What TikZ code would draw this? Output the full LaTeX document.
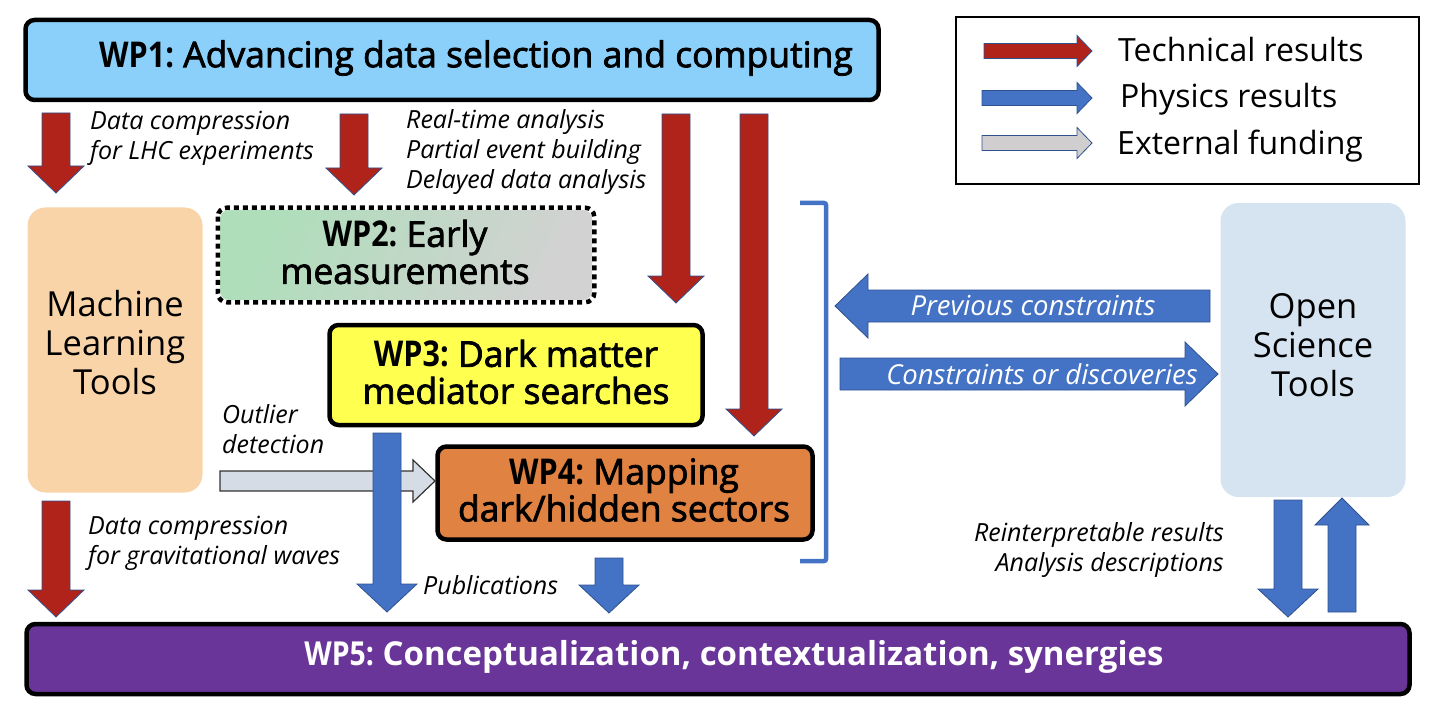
\documentclass[tikz,border=0pt]{standalone}
\usepackage{fontspec}
\setmainfont{Open Sans}
\usetikzlibrary{calc}

\definecolor{wpone}{RGB}{139,208,250}
\definecolor{mlfill}{RGB}{248,212,168}
\definecolor{wptwoA}{RGB}{174,222,186}
\definecolor{wptwoB}{RGB}{210,210,210}
\definecolor{wpthree}{RGB}{255,255,80}
\definecolor{wpfour}{RGB}{224,130,65}
\definecolor{wpfive}{RGB}{106,53,152}
\definecolor{ostfill}{RGB}{214,228,241}
\definecolor{techred}{RGB}{176,35,26}
\definecolor{physblue}{RGB}{68,114,196}
\definecolor{outlineblue}{RGB}{47,82,143}
\definecolor{fundgrey}{RGB}{208,206,206}
\definecolor{outliergrey}{RGB}{214,220,229}

\newcommand\wpfont{\fontsize{35.5}{37}\selectfont}
\newcommand\wpfivefont{\fontsize{33}{37}\selectfont}
\newcommand\toolfont{\fontsize{34.5}{39}\selectfont}
\newcommand\labfont{\fontsize{25}{30}\selectfont\itshape}
\newcommand\arrfont{\fontsize{27.5}{30}\selectfont\itshape}
\newcommand\legfont{\fontsize{32}{36}\selectfont}

% condensed heavy work-package id
\newcommand\wpid[1]{\scalebox{0.86}[1]{\bfseries #1}}
% medium weight: fill and stroke the glyph outlines
\newcommand\medw[1]{\special{pdf:literal direct 2 Tr 0.75 w}#1\special{pdf:literal direct 0 Tr}}

% block arrow: style, from, to, half shaft width, half head width, head length
\newcommand{\blockarr}[6]{%
  \coordinate (ba-h) at ($(#3)!#6!(#2)$);
  \draw[#1] ($(#2)!#4!90:(#3)$) -- ($(ba-h)!#4!90:(#3)$) -- ($(ba-h)!#5!90:(#3)$)
    -- (#3) -- ($(ba-h)!#5!-90:(#3)$) -- ($(ba-h)!#4!-90:(#3)$)
    -- ($(#2)!#4!-90:(#3)$) -- cycle;
}

\begin{document}
\begin{tikzpicture}[x=1pt,y=-1pt,
  wpbox/.style={draw=black, line width=4.5pt, rounded corners=9pt, inner sep=0pt},
  wptext/.style={align=center, font=\wpfont, inner sep=0pt},
  softbox/.style={rounded corners=18pt, inner sep=0pt},
  tooltext/.style={align=center, font=\toolfont, inner sep=0pt},
  lab/.style={font=\labfont, inner sep=0pt},
  arrlab/.style={font=\arrfont, text=white, inner sep=0pt},
  leglab/.style={font=\legfont, anchor=west, inner sep=0pt},
  techarr/.style={fill=techred, draw=outlineblue, line width=0.8pt},
  physarr/.style={fill=physblue, draw=outlineblue, line width=0.8pt},
  fundarr/.style={fill=fundgrey, draw=outlineblue, line width=0.8pt},
  outarr/.style={fill=outliergrey, draw=black!80, line width=1.2pt},
  bracket/.style={draw=physblue, line width=4.5pt, rounded corners=2pt}
]
\useasboundingbox (0,0) rectangle (1438,722);

% ---------- work packages ----------
\node[wpbox, fill=wpone, minimum width=853, minimum height=80] (wp1) at (452,60) {};
\node[wptext] (wp1text) at (476,58) {\wpid{WP1:} \medw{Advancing data selection and computing}};

\node[wpbox, draw=none, left color=wptwoA, right color=wptwoB, shading angle=65,
  minimum width=372, minimum height=90] (wp2) at (406,255) {};
\draw[line width=4.5pt, dash pattern=on 5pt off 4pt, rounded corners=9pt]
  (wp2.north west) rectangle (wp2.south east);
\node[wptext] (wp2text) at (405,252) {\wpid{WP2:} \medw{Early}\\\medw{measurements}};

\node[wpbox, fill=wpthree, minimum width=373, minimum height=100] (wp3) at (516,375) {};
\node[wptext] (wp3text) at (516,372) {\wpid{WP3:} \medw{Dark matter}\\\medw{mediator searches}};

\node[wpbox, fill=wpfour, minimum width=375, minimum height=93] (wp4) at (625,493) {};
\node[wptext] (wp4text) at (624,490) {\wpid{WP4:} \medw{Mapping}\\\medw{dark/hidden sectors}};

\node[wpbox, fill=wpfive, minimum width=1383, minimum height=70] (wp5) at (718,659) {};
\node[wptext, font=\wpfivefont, text=white] (wp5text) at (734,657)
  {\wpid{WP5:} \textbf{Conceptualization, contextualization, synergies}};

% ---------- tool boxes ----------
\node[softbox, fill=mlfill, minimum width=175, minimum height=285] (ml) at (115,350) {};
\node[tooltext] (mltext) at (115,343) {Machine\\Learning\\Tools};
\node[softbox, fill=ostfill, minimum width=185, minimum height=294] (ost) at (1313,350) {};
\node[tooltext] (osttext) at (1313,345) {Open\\Science\\Tools};

% ---------- legend ----------
\node[draw=black, line width=1.6pt, minimum width=463, minimum height=167, anchor=north west,
  inner sep=0pt] (legend) at (955,16) {};
\coordinate (lg1s) at (984,51);  \coordinate (lg1e) at (1092,51);
\coordinate (lg2s) at (982,98);  \coordinate (lg2e) at (1092,98);
\coordinate (lg3s) at (982,143); \coordinate (lg3e) at (1092,143);
\blockarr{techarr}{lg1s}{lg1e}{7.5pt}{15.5pt}{15pt}
\blockarr{physarr}{lg2s}{lg2e}{7.5pt}{15.5pt}{15pt}
\blockarr{fundarr}{lg3s}{lg3e}{7.5pt}{15.5pt}{15pt}
\node[leglab] (lgt1) at (1118,50) {Technical results};
\node[leglab] (lgt2) at (1120,99) {Physics results};
\node[leglab] (lgt3) at (1117,146) {External funding};

% ---------- technical results (red) ----------
\coordinate (r1s) at (56,113);  \coordinate (r1e) at (56,193);
\coordinate (r2s) at (354,114); \coordinate (r2e) at (354,195);
\coordinate (r3s) at (676,114); \coordinate (r3e) at (676,303);
\coordinate (r4s) at (754,114); \coordinate (r4e) at (754,436);
\coordinate (r5s) at (56,501);  \coordinate (r5e) at (56,617);
\blockarr{techarr}{r1s}{r1e}{14pt}{28pt}{27pt}
\blockarr{techarr}{r2s}{r2e}{14pt}{28pt}{27pt}
\blockarr{techarr}{r3s}{r3e}{14pt}{28pt}{27pt}
\blockarr{techarr}{r4s}{r4e}{14pt}{28pt}{27pt}
\blockarr{techarr}{r5s}{r5e}{14pt}{28pt}{27pt}

% ---------- external funding (grey) ----------
\coordinate (o1s) at (220,481); \coordinate (o1e) at (435,481);
\blockarr{outarr}{o1s}{o1e}{10pt}{21pt}{22pt}

% ---------- physics results (blue) ----------
\coordinate (b1s) at (387,433); \coordinate (b1e) at (387,612);
\coordinate (b2s) at (609,558); \coordinate (b2e) at (609,613);
\coordinate (b3s) at (1210,306); \coordinate (b3e) at (835,306);
\coordinate (b4s) at (840,374); \coordinate (b4e) at (1218,374);
\coordinate (b5s) at (1288,500); \coordinate (b5e) at (1288,617);
\coordinate (b6s) at (1342,612); \coordinate (b6e) at (1342,498);
\blockarr{physarr}{b1s}{b1e}{14pt}{30pt}{28pt}
\blockarr{physarr}{b2s}{b2e}{14pt}{30pt}{28pt}
\blockarr{physarr}{b3s}{b3e}{16pt}{32pt}{33pt}
\blockarr{physarr}{b4s}{b4e}{16pt}{32pt}{33pt}
\blockarr{physarr}{b5s}{b5e}{14pt}{30pt}{28pt}
\blockarr{physarr}{b6s}{b6e}{14pt}{27pt}{27pt}

% bracket grouping WP2-WP4
\coordinate (brt) at (800,203); \coordinate (brb) at (800,561);
\draw[bracket] (brt) -- ++(26,0) |- (brb);

% ---------- labels ----------
\node[lab, anchor=west, align=left] (t1) at (90,138) {Data compression\\for LHC experiments};
\node[lab, anchor=west, align=left] (t2) at (406,152) {Real-time analysis\\Partial event building\\Delayed data analysis};
\node[lab, anchor=west, align=left] (t3) at (222,429) {Outlier\\detection};
\node[lab, anchor=west, align=left] (t4) at (88,543) {Data compression\\for gravitational waves};
\node[lab, anchor=west] (t5) at (423,585) {Publications};
\node[lab, anchor=east, align=right] (t6) at (1224,550) {Reinterpretable results\\Analysis descriptions};
\node[arrlab] (t7) at (1033,306) {Previous constraints};
\node[arrlab] (t8) at (1042,374) {Constraints or discoveries};
\end{tikzpicture}
\end{document}
